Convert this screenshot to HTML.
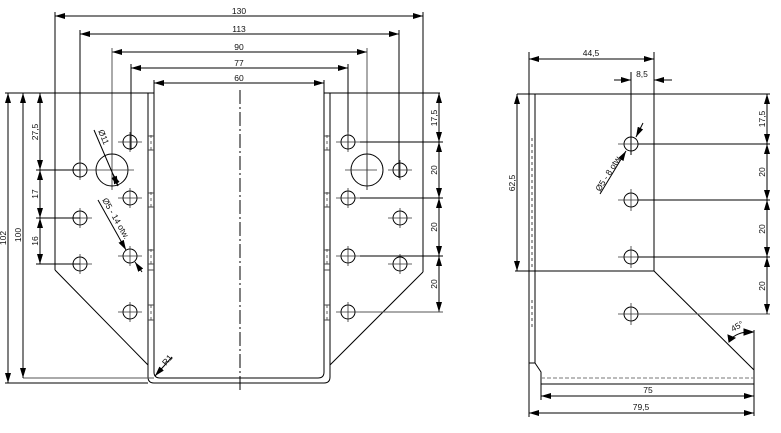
<!DOCTYPE html>
<html><head><meta charset="utf-8"><style>
html,body{margin:0;padding:0;background:#fff;}
svg{display:block;}
text{font-family:"Liberation Sans",sans-serif;font-size:8.5px;fill:#111;}
</style></head><body>
<svg width="781" height="433" viewBox="0 0 781 433" xmlns="http://www.w3.org/2000/svg">
<defs>
<marker id="a" viewBox="0 0 10 6" refX="10" refY="3" markerWidth="10" markerHeight="6" markerUnits="userSpaceOnUse" orient="auto-start-reverse"><path d="M0,0L10,3L0,6Z" fill="#000"/></marker>
</defs>
<g stroke="#000" fill="none" stroke-width="1">
<line x1="55" y1="16" x2="423" y2="16" marker-start="url(#a)" marker-end="url(#a)"/>
<line x1="80" y1="34" x2="399" y2="34" marker-start="url(#a)" marker-end="url(#a)"/>
<line x1="112" y1="52" x2="367" y2="52" marker-start="url(#a)" marker-end="url(#a)"/>
<line x1="131" y1="68" x2="348" y2="68" marker-start="url(#a)" marker-end="url(#a)"/>
<line x1="154" y1="83" x2="324" y2="83" marker-start="url(#a)" marker-end="url(#a)"/>
<line x1="55" y1="12" x2="55" y2="270"/>
<line x1="423" y1="12" x2="423" y2="272"/>
<line x1="80" y1="30" x2="80" y2="178"/>
<line x1="399" y1="30" x2="399" y2="178"/>
<line x1="112" y1="48" x2="112" y2="190" stroke="#555"/>
<line x1="367" y1="48" x2="367" y2="190" stroke="#555"/>
<line x1="131" y1="64" x2="131" y2="150"/>
<line x1="348" y1="64" x2="348" y2="150"/>
<line x1="154" y1="80" x2="154" y2="93"/>
<line x1="324" y1="80" x2="324" y2="93"/>

<line x1="5" y1="93" x2="154" y2="93"/>
<line x1="324" y1="93" x2="440" y2="93"/>
<line x1="148" y1="93" x2="148" y2="377"/>
<line x1="154" y1="93" x2="154" y2="372"/>
<line x1="324" y1="93" x2="324" y2="372"/>
<line x1="330" y1="93" x2="330" y2="377"/>
<path d="M148,377 Q148,383 154,383 L324,383 Q330,383 330,377"/>
<path d="M154,372 Q154,378 160,378 L318,378 Q324,378 324,372"/>
<line x1="5" y1="383" x2="148" y2="383"/>
<line x1="23" y1="378" x2="154" y2="378" stroke="#555"/>
<line x1="55" y1="270" x2="148" y2="365"/>
<line x1="423" y1="272" x2="330" y2="365"/>
<g stroke="#666" stroke-dasharray="3,3">
<line x1="151" y1="135" x2="151" y2="150"/><line x1="151" y1="192" x2="151" y2="207"/>
<line x1="151" y1="249" x2="151" y2="264"/><line x1="151" y1="305" x2="151" y2="320"/>
<line x1="327" y1="135" x2="327" y2="150"/><line x1="327" y1="192" x2="327" y2="207"/>
<line x1="327" y1="249" x2="327" y2="264"/><line x1="327" y1="305" x2="327" y2="320"/>
</g>
<g stroke="#444">
<line x1="148" y1="136" x2="154" y2="136"/><line x1="148" y1="150" x2="154" y2="150"/>
<line x1="148" y1="193" x2="154" y2="193"/><line x1="148" y1="207" x2="154" y2="207"/>
<line x1="148" y1="250" x2="154" y2="250"/><line x1="148" y1="264" x2="154" y2="264"/>
<line x1="148" y1="270" x2="154" y2="270"/><line x1="148" y1="305" x2="154" y2="305"/>
<line x1="148" y1="320" x2="154" y2="320"/>
<line x1="324" y1="136" x2="330" y2="136"/><line x1="324" y1="150" x2="330" y2="150"/>
<line x1="324" y1="193" x2="330" y2="193"/><line x1="324" y1="207" x2="330" y2="207"/>
<line x1="324" y1="250" x2="330" y2="250"/><line x1="324" y1="264" x2="330" y2="264"/>
<line x1="324" y1="270" x2="330" y2="270"/><line x1="324" y1="305" x2="330" y2="305"/>
<line x1="324" y1="320" x2="330" y2="320"/>
</g>
<line x1="240" y1="90" x2="240" y2="391" stroke-dasharray="14,3,2,3"/>

<g>
<circle cx="80" cy="170" r="7"/><circle cx="80" cy="218" r="7"/><circle cx="80" cy="264" r="7"/>
<circle cx="130" cy="142" r="7"/><circle cx="130" cy="198" r="7"/><circle cx="130" cy="256" r="7"/><circle cx="130" cy="312" r="7"/>
<circle cx="112" cy="170" r="16"/>
<circle cx="348" cy="142" r="7"/><circle cx="348" cy="198" r="7"/><circle cx="348" cy="256" r="7"/><circle cx="348" cy="312" r="7"/>
<circle cx="400" cy="170" r="7"/><circle cx="400" cy="218" r="7"/><circle cx="400" cy="264" r="7"/>
<circle cx="367" cy="170" r="16"/>
</g>
<g stroke="#333" stroke-width="0.8">
<path d="M70,170h22M80,160v20M70,218h22M80,208v20M70,264h22M80,254v20"/>
<path d="M118,142h24M130,132v20M118,198h24M130,188v20M118,256h24M130,246v20M118,312h24M130,302v20"/>
<path d="M92,170h42"/>
<path d="M336,142h24M348,132v20M336,198h24M348,188v20M336,256h24M348,246v20M336,312h24M348,302v20"/>
<path d="M388,170h24M400,160v20M388,218h24M400,208v20M388,264h24M400,254v20"/>
<path d="M345,170h32M367,154v36"/>
</g>
<line x1="8" y1="93" x2="8" y2="383" marker-start="url(#a)" marker-end="url(#a)"/>
<line x1="23" y1="93" x2="23" y2="378" marker-start="url(#a)" marker-end="url(#a)"/>
<line x1="40" y1="93" x2="40" y2="170" marker-start="url(#a)" marker-end="url(#a)"/>
<line x1="40" y1="170" x2="40" y2="218" marker-start="url(#a)" marker-end="url(#a)"/>
<line x1="40" y1="218" x2="40" y2="264" marker-start="url(#a)" marker-end="url(#a)"/>
<line x1="36" y1="170" x2="80" y2="170"/><line x1="36" y1="218" x2="80" y2="218"/><line x1="36" y1="264" x2="80" y2="264"/>
<line x1="439" y1="93" x2="439" y2="142" marker-start="url(#a)" marker-end="url(#a)"/>
<line x1="439" y1="142" x2="439" y2="198" marker-start="url(#a)" marker-end="url(#a)"/>
<line x1="439" y1="198" x2="439" y2="256" marker-start="url(#a)" marker-end="url(#a)"/>
<line x1="439" y1="256" x2="439" y2="312" marker-start="url(#a)" marker-end="url(#a)"/>
<line x1="360" y1="142" x2="443" y2="142"/><line x1="360" y1="198" x2="443" y2="198"/>
<line x1="360" y1="256" x2="443" y2="256"/><line x1="360" y1="312" x2="443" y2="312" stroke="#555"/>
<line x1="94" y1="130" x2="118" y2="186" marker-end="url(#a)"/>
<line x1="118" y1="186" x2="113" y2="174" marker-end="url(#a)"/>
<line x1="98" y1="200" x2="126" y2="250" marker-end="url(#a)"/>
<line x1="142" y1="272" x2="135" y2="262" marker-end="url(#a)"/>
<line x1="172" y1="357" x2="155" y2="376" marker-end="url(#a)"/>

<line x1="529" y1="94" x2="529" y2="363"/>
<line x1="535" y1="94" x2="535" y2="363"/>
<line x1="517" y1="94" x2="770" y2="94"/>
<line x1="654" y1="94" x2="654" y2="271"/>
<line x1="515" y1="271" x2="654" y2="271"/>
<line x1="654" y1="271" x2="754" y2="370"/>
<line x1="754" y1="330" x2="754" y2="416"/>
<path d="M529,363 L535,363 L541,372 L541,384 L754,384"/>
<line x1="541" y1="378" x2="754" y2="378" stroke="#777" stroke-dasharray="4,2"/>
<line x1="541" y1="384" x2="541" y2="400"/>
<line x1="529" y1="363" x2="529" y2="417"/>
<line x1="529" y1="52" x2="529" y2="94"/>
<line x1="654" y1="52" x2="654" y2="94"/>
<line x1="631" y1="72" x2="631" y2="155"/>
<g stroke="#444" stroke-dasharray="3,3"><line x1="532" y1="138" x2="532" y2="270"/><line x1="532" y1="300" x2="532" y2="330"/></g>
<circle cx="631" cy="144" r="7"/><circle cx="631" cy="200" r="7"/><circle cx="631" cy="257" r="7"/><circle cx="631" cy="314" r="7"/>
<g stroke="#333" stroke-width="0.8">
<path d="M618,144h26M618,200h26M631,189v22M618,257h26M631,246v22M618,314h26M631,303v22"/>
</g>
<line x1="638" y1="144" x2="770" y2="144"/><line x1="638" y1="200" x2="770" y2="200"/>
<line x1="638" y1="257" x2="770" y2="257"/><line x1="638" y1="314" x2="770" y2="314" stroke="#555"/>
<line x1="767" y1="94" x2="767" y2="144" marker-start="url(#a)" marker-end="url(#a)"/>
<line x1="767" y1="144" x2="767" y2="200" marker-start="url(#a)" marker-end="url(#a)"/>
<line x1="767" y1="200" x2="767" y2="257" marker-start="url(#a)" marker-end="url(#a)"/>
<line x1="767" y1="257" x2="767" y2="314" marker-start="url(#a)" marker-end="url(#a)"/>
<line x1="517" y1="94" x2="517" y2="271" marker-start="url(#a)" marker-end="url(#a)"/>
<line x1="529" y1="59" x2="654" y2="59" marker-start="url(#a)" marker-end="url(#a)"/>
<line x1="614" y1="80" x2="631" y2="80" marker-end="url(#a)"/>
<line x1="672" y1="80" x2="654" y2="80" marker-end="url(#a)"/>
<line x1="541" y1="396" x2="754" y2="396" marker-start="url(#a)" marker-end="url(#a)"/>
<line x1="529" y1="413" x2="754" y2="413" marker-start="url(#a)" marker-end="url(#a)"/>
<line x1="600" y1="194" x2="626" y2="151" marker-end="url(#a)"/>
<line x1="643" y1="123" x2="636" y2="137" marker-end="url(#a)"/>
<path d="M730,340 Q738,331 753,332"/>
<path d="M744,329 L753,332 L744,335 Z" fill="#000"/>
<path d="M728,335 L729,342 L735,338 Z" fill="#000"/>
</g>
<text x="239" y="14" text-anchor="middle">130</text>
<text x="239" y="32" text-anchor="middle">113</text>
<text x="239" y="50" text-anchor="middle">90</text>
<text x="239" y="66" text-anchor="middle">77</text>
<text x="239" y="81" text-anchor="middle">60</text>
<text transform="translate(6,238) rotate(-90)" text-anchor="middle">102</text>
<text transform="translate(21,235) rotate(-90)" text-anchor="middle">100</text>
<text transform="translate(38,132) rotate(-90)" text-anchor="middle">27,5</text>
<text transform="translate(38,194) rotate(-90)" text-anchor="middle">17</text>
<text transform="translate(38,241) rotate(-90)" text-anchor="middle">16</text>
<text transform="translate(437,118) rotate(-90)" text-anchor="middle">17,5</text>
<text transform="translate(437,170) rotate(-90)" text-anchor="middle">20</text>
<text transform="translate(437,227) rotate(-90)" text-anchor="middle">20</text>
<text transform="translate(437,284) rotate(-90)" text-anchor="middle">20</text>
<text transform="translate(98,131) rotate(67)" font-size="7">Ø11</text>
<text transform="translate(102,200) rotate(60)" font-size="7">Ø5 - 14 otw.</text>
<text transform="translate(166,366) rotate(-50)" font-size="7">R1</text>
<text x="591" y="56" text-anchor="middle">44,5</text>
<text x="642" y="77" text-anchor="middle">8,5</text>
<text transform="translate(515,183) rotate(-90)" text-anchor="middle">62,5</text>
<text transform="translate(765,119) rotate(-90)" text-anchor="middle">17,5</text>
<text transform="translate(765,172) rotate(-90)" text-anchor="middle">20</text>
<text transform="translate(765,229) rotate(-90)" text-anchor="middle">20</text>
<text transform="translate(765,286) rotate(-90)" text-anchor="middle">20</text>
<text transform="translate(600,192) rotate(-58)" font-size="7">Ø5 - 8 otw.</text>
<text transform="translate(733,332) rotate(-30)" font-size="7">45°</text>
<text x="648" y="393" text-anchor="middle">75</text>
<text x="641" y="410" text-anchor="middle">79,5</text>
</svg>
</body></html>
